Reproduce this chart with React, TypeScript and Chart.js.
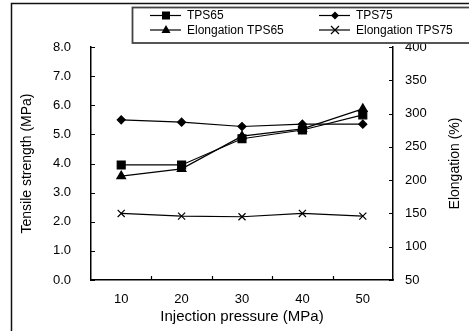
import { useEffect, useRef } from 'react';
import { Chart, registerables } from 'chart.js';

Chart.register(...registerables);

// Injection pressure categories (MPa)
const pressures = ['10', '20', '30', '40', '50'];

// Tensile strength (MPa), left axis
const tensileTPS65 = [3.95, 3.95, 4.85, 5.15, 5.67];
const tensileTPS75 = [5.5, 5.42, 5.27, 5.35, 5.35];

// Elongation (%), right axis
const elongationTPS65 = [206, 217, 266, 277, 307];
const elongationTPS75 = [150, 146, 145, 150, 146];

const seriesNames = ['TPS65', 'TPS75', 'Elongation TPS65', 'Elongation TPS75'];
const rightAxisTitle = 'Elongation (%)';

const FONT = "'Liberation Sans', Arial, sans-serif";

type Marker = 'rect' | 'rectRot' | 'triangle' | 'crossRot';

function drawMarker(ctx: CanvasRenderingContext2D, kind: Marker, x: number, y: number) {
  ctx.save();
  ctx.fillStyle = '#000';
  ctx.strokeStyle = '#000';
  ctx.lineWidth = 1.2;
  ctx.beginPath();
  if (kind === 'rect') {
    ctx.rect(x - 4, y - 4, 8, 8);
    ctx.fill();
  } else if (kind === 'rectRot') {
    ctx.moveTo(x, y - 4);
    ctx.lineTo(x + 4, y);
    ctx.lineTo(x, y + 4);
    ctx.lineTo(x - 4, y);
    ctx.closePath();
    ctx.fill();
  } else if (kind === 'triangle') {
    ctx.moveTo(x, y - 5);
    ctx.lineTo(x + 4.5, y + 3);
    ctx.lineTo(x - 4.5, y + 3);
    ctx.closePath();
    ctx.fill();
  } else {
    ctx.moveTo(x - 4, y - 4);
    ctx.lineTo(x + 4, y + 4);
    ctx.moveTo(x + 4, y - 4);
    ctx.lineTo(x - 4, y + 4);
    ctx.stroke();
  }
  ctx.restore();
}

// Frame, inward tick marks, right axis title and the boxed two-column legend
const decorations = {
  id: 'decorations',
  afterDraw(chart: Chart) {
    const ctx = chart.ctx;
    const area = chart.chartArea;
    const yL = chart.scales.y;
    const yR = chart.scales.y1;

    ctx.save();
    ctx.strokeStyle = '#000';
    ctx.lineWidth = 1.2;
    ctx.beginPath();
    yL.ticks.forEach((t) => {
      const py = Math.round(yL.getPixelForValue(t.value)) + 0.5;
      ctx.moveTo(area.left, py);
      ctx.lineTo(area.left + 4, py);
    });
    yR.ticks.forEach((t) => {
      const py = Math.round(yR.getPixelForValue(t.value)) + 0.5;
      ctx.moveTo(area.right - 4, py);
      ctx.lineTo(area.right, py);
    });
    const step = (area.right - area.left) / pressures.length;
    for (let i = 1; i < pressures.length; i++) {
      const px = Math.round(area.left + i * step) + 0.5;
      ctx.moveTo(px, area.bottom);
      ctx.lineTo(px, area.bottom - 4);
    }
    ctx.stroke();

    // right axis title, reading bottom to top
    ctx.save();
    ctx.translate(455, (area.top + area.bottom) / 2);
    ctx.rotate(-Math.PI / 2);
    ctx.font = `14px ${FONT}`;
    ctx.fillStyle = '#000';
    ctx.textAlign = 'center';
    ctx.textBaseline = 'middle';
    ctx.fillText(rightAxisTitle, 0, 0);
    ctx.restore();

    // outer frame
    ctx.strokeStyle = '#111';
    ctx.lineWidth = 1.5;
    ctx.strokeRect(11.5, 3.5, 480, 340);

    // legend box
    ctx.fillStyle = '#fff';
    ctx.fillRect(132.5, 7.5, 360, 35.5);
    ctx.strokeStyle = '#444';
    ctx.lineWidth = 1.8;
    ctx.strokeRect(132.5, 7.5, 360, 35.5);

    const entries: { name: string; marker: Marker; x: number; y: number }[] = [
      { name: seriesNames[0], marker: 'rect', x: 150, y: 15.5 },
      { name: seriesNames[1], marker: 'rectRot', x: 319, y: 15.5 },
      { name: seriesNames[2], marker: 'triangle', x: 150, y: 30 },
      { name: seriesNames[3], marker: 'crossRot', x: 319, y: 30 },
    ];
    ctx.font = `12px ${FONT}`;
    ctx.textBaseline = 'middle';
    ctx.textAlign = 'left';
    entries.forEach((e) => {
      ctx.strokeStyle = '#000';
      ctx.lineWidth = 1.2;
      ctx.beginPath();
      ctx.moveTo(e.x, e.y);
      ctx.lineTo(e.x + 31, e.y);
      ctx.stroke();
      drawMarker(ctx, e.marker, e.x + 16, e.y);
      ctx.fillStyle = '#000';
      ctx.fillText(e.name, e.x + 37, e.y + 0.5);
    });
    ctx.restore();
  },
};

export default function App() {
  const canvasRef = useRef<HTMLCanvasElement | null>(null);

  useEffect(() => {
    const canvas = canvasRef.current;
    if (!canvas) return;
    const line = {
      borderColor: '#000',
      backgroundColor: '#000',
      borderWidth: 1.2,
      pointBorderColor: '#000',
      pointBackgroundColor: '#000',
      tension: 0,
    };
    const chart = new Chart(canvas, {
      type: 'line',
      data: {
        labels: pressures,
        datasets: [
          { ...line, label: seriesNames[2], data: elongationTPS65, yAxisID: 'y1', pointStyle: 'triangle', pointRadius: 5 },
          { ...line, label: seriesNames[3], data: elongationTPS75, yAxisID: 'y1', pointStyle: 'crossRot', pointRadius: 5, pointBorderWidth: 1.2 },
          { ...line, label: seriesNames[1], data: tensileTPS75, yAxisID: 'y', pointStyle: 'rectRot', pointRadius: 4 },
          { ...line, label: seriesNames[0], data: tensileTPS65, yAxisID: 'y', pointStyle: 'rect', pointRadius: 5.6 },
        ],
      },
      options: {
        responsive: false,
        animation: false,
        devicePixelRatio: 1,
        layout: { padding: { top: 47, left: 0, right: 0, bottom: 0 } },
        plugins: {
          legend: { display: false },
          tooltip: { enabled: false },
        },
        scales: {
          x: {
            type: 'category',
            offset: true,
            grid: { display: false, drawTicks: false, tickLength: 0 },
            border: { display: true, color: '#000', width: 1.5 },
            ticks: { color: '#000', font: { family: FONT, size: 13 }, padding: 12, maxRotation: 0 },
            title: {
              display: true,
              text: 'Injection pressure (MPa)',
              color: '#000',
              font: { family: FONT, size: 15 },
              padding: { top: 0, bottom: 5 },
            },
            afterFit: (s: any) => { s.height = 51; },
          },
          y: {
            position: 'left',
            min: 0,
            max: 8,
            grid: { display: false, drawTicks: false, tickLength: 0 },
            border: { display: true, color: '#000', width: 1.5 },
            ticks: {
              stepSize: 1,
              color: '#000',
              font: { family: FONT, size: 13 },
              padding: 20,
              callback: (v: any) => Number(v).toFixed(1),
            },
            title: {
              display: true,
              text: 'Tensile strength (MPa)',
              color: '#000',
              font: { family: FONT, size: 14 },
              padding: { top: 19, bottom: 0 },
            },
            afterFit: (s: any) => { s.width = 91; },
          },
          y1: {
            position: 'right',
            min: 50,
            max: 400,
            grid: { display: false, drawTicks: false, tickLength: 0 },
            border: { display: true, color: '#000', width: 1.5 },
            ticks: { stepSize: 50, color: '#000', font: { family: FONT, size: 13 }, padding: 12 },
            title: { display: false },
            afterFit: (s: any) => { s.width = 76; },
          },
        },
      },
      plugins: [decorations],
    });
    return () => chart.destroy();
  }, []);

  return (
    <div style={{ position: 'absolute', left: 0, top: 0, width: 469, height: 331, background: '#fff' }}>
      <canvas ref={canvasRef} width={469} height={331} />
    </div>
  );
}
